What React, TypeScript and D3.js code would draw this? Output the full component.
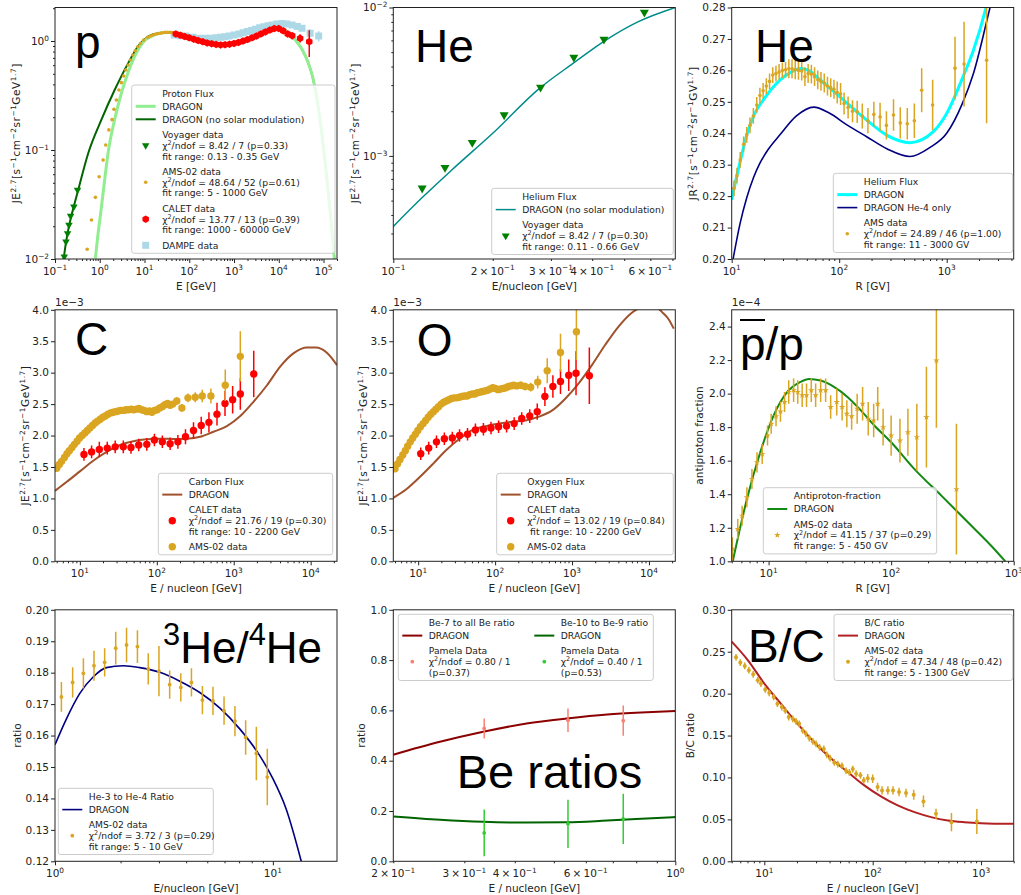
import React, { useEffect, useRef } from "react";
import * as d3 from "d3";

type Pt = [number, number];
type EPt = [number, number, number];

// ---------- proton flux ----------
const pDragonHigh: Pt[] = [[50,1.19],[70,1.15],[100,1.09],[150,1.03],[200,0.99],[300,0.955],[500,0.93],[800,0.93],[1200,0.96],[2000,1.03],[3000,1.1],[5000,1.21],[7000,1.29],[9000,1.33],[12000,1.29],[17000,1.17],[23500,1.02],[33000,0.84],[45000,0.64],[57000,0.47],[70000,0.31],[90000,0.15],[115000,0.062],[140000,0.028],[175000,0.01]];
const pDragon: Pt[] = [[0.8,0.0102],[0.9,0.016],[1.09,0.03],[1.3,0.055],[1.53,0.093],[2.15,0.19],[3.03,0.33],[4.26,0.51],[6,0.72],[8.4,0.92],[11,1.04],[14,1.1],[20,1.17],[30,1.2],[40,1.2], ...pDragonHigh];
const pDragonNoMod: Pt[] = [[0.155,0.0098],[0.176,0.0142],[0.2,0.019],[0.25,0.028],[0.33,0.043],[0.55,0.093],[1.09,0.19],[2.15,0.355],[4.26,0.62],[7.1,0.89],[11.8,1.09],[19.8,1.18],[30,1.2],[40,1.2], ...pDragonHigh];
const pVoyager: Pt[] = [[0.161,0.0105],[0.176,0.0144],[0.191,0.0172],[0.205,0.0205],[0.223,0.0248],[0.264,0.0302],[0.319,0.043]];
const pAms: Pt[] = [[0.523,0.0123],[0.653,0.0228],[0.8,0.0368],[0.97,0.0569],[1.19,0.081],[1.36,0.111],[1.6,0.153],[1.88,0.19],[2.08,0.236],[2.35,0.288],[2.68,0.355],[3.03,0.415],[3.4,0.477],[3.83,0.542],[4.3,0.602],[4.85,0.669],[5.47,0.744],[6.2,0.815],[7.1,0.886],[8.1,0.95],[9.6,1.02],[11.8,1.08],[13.5,1.11],[15.3,1.13],[17.5,1.155],[19.8,1.17],[22.5,1.18],[25.5,1.19],[29,1.2],[33,1.2],[37.5,1.2],[42.5,1.195],[48,1.19]];
const pCalet: EPt[] = [[50.1,1.16,0.02],[63.1,1.13,0.02],[79.4,1.1,0.02],[100,1.07,0.02],[126,1.04,0.02],[158,1.01,0.02],[200,0.985,0.02],[251,0.96,0.02],[316,0.945,0.02],[398,0.93,0.025],[501,0.92,0.025],[631,0.925,0.025],[794,0.935,0.03],[1000,0.95,0.03],[1259,0.97,0.03],[1585,1.0,0.035],[1995,1.03,0.035],[2512,1.07,0.04],[3162,1.11,0.04],[3981,1.16,0.045],[5012,1.21,0.05],[6310,1.26,0.05],[7943,1.3,0.06],[10000,1.3,0.06],[12589,1.24,0.07],[15849,1.16,0.08],[19953,1.12,0.08],[30000,1.06,0.09],[48000,0.985,0.27]];
const pDampe: EPt[] = [[46,1.135,0.03],[63,1.12,0.03],[84,1.11,0.03],[120,1.08,0.03],[166,1.06,0.03],[230,1.06,0.03],[302,1.06,0.03],[400,1.07,0.03],[500,1.08,0.03],[630,1.095,0.03],[772,1.11,0.035],[1000,1.135,0.035],[1290,1.16,0.04],[1600,1.19,0.04],[1980,1.22,0.045],[2450,1.25,0.045],[3020,1.28,0.05],[3750,1.32,0.05],[4640,1.35,0.055],[5800,1.38,0.06],[7100,1.4,0.06],[9000,1.43,0.07],[11800,1.45,0.07],[15000,1.43,0.08],[19800,1.4,0.08],[26000,1.36,0.09],[33000,1.31,0.09],[50000,1.18,0.1],[78000,1.11,0.12]];

// ---------- helium, Voyager ----------
const heVoyDragon: Pt[] = [[0.1,3.35e-4],[0.123,5.3e-4],[0.15,8.0e-4],[0.2,1.42e-3],[0.277,2.85e-3],[0.35,4.2e-3],[0.44,6.03e-3],[0.55,8.0e-3],[0.714,1.0e-2]];
const heVoyData: Pt[] = [[0.1223,6.06e-4],[0.1434,8.34e-4],[0.1734,1.228e-3],[0.2165,1.888e-3],[0.2791,2.9e-3],[0.352,4.61e-3],[0.4342,6.1e-3],[0.5755,9.27e-3]];

// ---------- helium, AMS ----------
const heAmsDragon: Pt[] = [[10,0.2188],[11,0.2255],[12,0.231],[13.8,0.2395],[16.5,0.2465],[19.7,0.2506],[28.1,0.2569],[36,0.2595],[43.2,0.2606],[52,0.26],[66,0.2571],[101.6,0.2516],[180,0.2442],[276,0.2394],[456,0.237],[750,0.2405],[1000,0.2463],[1420,0.258],[1773,0.2664],[2323,0.28],[2600,0.287]];
const heAmsDragonHe4: Pt[] = [[10.3,0.2],[12,0.2115],[13.8,0.2195],[16,0.226],[18.3,0.2305],[22,0.235],[28.1,0.2395],[40,0.2455],[58,0.2483],[80,0.2465],[120,0.2425],[180,0.2389],[280,0.235],[456,0.2326],[700,0.2355],[1000,0.24],[1400,0.2495],[1773,0.259],[2530,0.28],[2800,0.286]];
const heAmsData: EPt[] = [[10.5,0.2225,0.0025],[11.2,0.2265,0.0025],[12,0.2315,0.0025],[12.9,0.2365,0.0025],[13.8,0.2395,0.0025],[14.8,0.2425,0.0025],[15.9,0.2455,0.0025],[17.1,0.249,0.0025],[18.3,0.252,0.0025],[19.6,0.2535,0.0025],[21,0.255,0.0025],[22.5,0.2565,0.0025],[24.1,0.2585,0.0025],[25.8,0.259,0.0025],[27.6,0.2595,0.0025],[29.6,0.26,0.0025],[31.7,0.2602,0.0025],[34,0.2605,0.003],[36.4,0.2605,0.003],[39,0.2602,0.003],[41.8,0.26,0.003],[44.8,0.2598,0.003],[48,0.258,0.003],[51.4,0.259,0.003],[55.1,0.2588,0.003],[59,0.258,0.003],[63.2,0.257,0.003],[67.7,0.2565,0.003],[72.6,0.256,0.003],[77.8,0.255,0.003],[83.4,0.2545,0.003],[89.4,0.254,0.003],[95.8,0.253,0.0035],[103,0.2525,0.0035],[111,0.2495,0.0035],[121,0.2482,0.0035],[133,0.247,0.0035],[147,0.2468,0.0035],[164,0.2455,0.004],[185,0.244,0.004],[210,0.246,0.004],[240,0.2452,0.0045],[275,0.2425,0.0045],[320,0.2458,0.005],[370,0.2433,0.005],[430,0.243,0.005],[500,0.244,0.0055],[585,0.2537,0.007],[740,0.249,0.008],[1195,0.2607,0.01],[1450,0.262,0.0135],[2350,0.2632,0.02]];

// ---------- carbon (units of 1e-3) ----------
const cDragon: Pt[] = [[4.75,1.12],[6.7,1.26],[10,1.43],[14.9,1.6],[22.3,1.74],[33.3,1.85],[49.6,1.91],[74,1.94],[110,1.95],[164,1.945],[246,1.95],[367,1.98],[547,2.06],[815,2.15],[1218,2.31],[1815,2.54],[2708,2.8],[4040,3.1],[6025,3.31],[8990,3.4],[11600,3.4],[16500,3.31],[22000,3.12]];
const cCalet: EPt[] = [[11.3,1.7,0.1],[14.2,1.74,0.1],[17.9,1.78,0.12],[22.7,1.8,0.1],[28.8,1.82,0.1],[36.7,1.82,0.1],[46.2,1.81,0.1],[58.2,1.85,0.1],[74.1,1.86,0.1],[93.1,1.93,0.1],[118,1.9,0.1],[149,1.87,0.1],[188,1.9,0.11],[236,1.98,0.12],[300,2.08,0.13],[378,2.16,0.14],[476,2.21,0.16],[606,2.34,0.18],[770,2.51,0.2],[968,2.57,0.22],[1218,2.66,0.25],[1820,2.98,0.37]];
const cAms: EPt[] = [[5,1.48,0.04],[5.4,1.54,0.04],[5.8,1.59,0.04],[6.3,1.65,0.04],[6.8,1.71,0.04],[7.3,1.76,0.04],[7.9,1.81,0.04],[8.5,1.86,0.04],[9.2,1.91,0.04],[9.9,1.96,0.04],[10.7,2.0,0.04],[11.6,2.04,0.04],[12.5,2.08,0.04],[13.5,2.12,0.04],[14.6,2.16,0.04],[15.8,2.2,0.04],[17,2.23,0.04],[18.4,2.26,0.04],[19.9,2.29,0.04],[21.5,2.31,0.04],[23.2,2.34,0.04],[25.1,2.36,0.04],[27.1,2.37,0.04],[29.3,2.38,0.04],[31.6,2.39,0.04],[34.2,2.4,0.04],[36.9,2.4,0.04],[39.9,2.41,0.04],[43.1,2.41,0.04],[46.6,2.42,0.04],[50.3,2.41,0.04],[54.4,2.42,0.04],[58.7,2.43,0.04],[63.5,2.41,0.04],[68.6,2.4,0.04],[74.1,2.38,0.04],[80,2.39,0.04],[86.5,2.37,0.04],[93.4,2.4,0.04],[101,2.41,0.04],[109,2.44,0.05],[118,2.46,0.05],[127,2.49,0.05],[138,2.51,0.05],[149,2.48,0.05],[161,2.5,0.05],[182,2.55,0.06],[212,2.44,0.06],[254,2.6,0.07],[316,2.61,0.08],[390,2.63,0.1],[505,2.63,0.12],[776,2.8,0.25],[1218,3.26,0.4]];

// ---------- oxygen (units of 1e-3) ----------
const oDragon: Pt[] = [[4.75,1.01],[7.08,1.15],[10.5,1.34],[15.6,1.55],[23.2,1.77],[34.5,1.95],[51.3,2.09],[76.3,2.15],[113,2.19],[168,2.22],[250,2.24],[372,2.3],[553,2.4],[822,2.59],[1220,2.83],[1813,3.12],[2692,3.44],[4000,3.73],[5940,3.95],[7240,4.02],[9000,4.07],[10700,4.07],[13000,4.03],[15200,3.95],[18000,3.85],[21000,3.7]];
const oCalet: EPt[] = [[10.8,1.71,0.1],[13.7,1.8,0.1],[17.3,1.9,0.1],[21.9,1.95,0.1],[27.8,1.96,0.1],[34.5,2.0,0.1],[43.8,2.02,0.1],[55.5,2.09,0.1],[70.5,2.1,0.1],[88.5,2.12,0.1],[111,2.14,0.1],[141,2.15,0.1],[177,2.19,0.1],[222,2.27,0.1],[282,2.31,0.11],[353,2.38,0.13],[444,2.62,0.15],[564,2.78,0.18],[708,2.86,0.2],[906,2.96,0.25],[1127,2.99,0.35],[1679,2.95,0.45]];
const oAms: EPt[] = [[5,1.47,0.04],[5.4,1.55,0.04],[5.8,1.62,0.04],[6.3,1.69,0.04],[6.8,1.76,0.04],[7.3,1.83,0.04],[7.9,1.9,0.04],[8.5,1.96,0.04],[9.2,2.02,0.04],[9.9,2.08,0.04],[10.7,2.14,0.04],[11.6,2.19,0.04],[12.5,2.24,0.04],[13.5,2.29,0.04],[14.6,2.34,0.04],[15.8,2.38,0.04],[17,2.42,0.04],[18.4,2.46,0.04],[19.9,2.5,0.04],[21.5,2.53,0.04],[23.2,2.55,0.04],[25.1,2.57,0.04],[27.1,2.59,0.04],[29.3,2.6,0.04],[31.6,2.6,0.04],[34.2,2.61,0.04],[36.9,2.62,0.04],[39.9,2.63,0.04],[43.1,2.63,0.04],[46.6,2.65,0.04],[50.3,2.66,0.04],[54.4,2.66,0.04],[58.7,2.68,0.04],[63.5,2.69,0.04],[68.6,2.7,0.04],[74.1,2.71,0.04],[80,2.72,0.04],[86.5,2.74,0.05],[93.4,2.76,0.05],[101,2.75,0.05],[109,2.73,0.05],[118,2.74,0.05],[127,2.75,0.05],[138,2.76,0.05],[149,2.78,0.05],[161,2.79,0.05],[174,2.8,0.05],[190,2.79,0.05],[215,2.8,0.06],[245,2.78,0.06],[290,2.77,0.07],[358,2.85,0.1],[476,3.03,0.2],[708,3.32,0.3],[1140,3.65,0.45]];

// ---------- antiproton fraction (units of 1e-4) ----------
const pbarDragon: Pt[] = [[5.1,1.0],[6.65,1.37],[8.55,1.65],[11,1.87],[14.2,2.01],[18.2,2.07],[21.3,2.088],[26.6,2.078],[34.2,2.04],[44,1.98],[56.6,1.9],[72.9,1.81],[100,1.71],[155,1.55],[258,1.39],[427,1.23],[661,1.09],[853,1.0]];
const pbarAms: EPt[] = [[5.06,1.074,0.07],[5.6,1.193,0.06],[6.08,1.272,0.06],[6.65,1.382,0.06],[7.31,1.491,0.06],[8.04,1.59,0.06],[8.87,1.64,0.06],[9.8,1.75,0.06],[10.5,1.82,0.06],[11.5,1.865,0.06],[12.5,1.893,0.06],[13.5,1.95,0.06],[14.6,2.01,0.07],[16,2.02,0.07],[17.3,2.01,0.07],[18.8,1.99,0.07],[20.4,1.99,0.07],[22.3,2.02,0.07],[24.2,1.99,0.07],[26.6,2.02,0.07],[29.2,2.02,0.07],[32.1,1.92,0.07],[36,1.95,0.08],[39.8,1.92,0.08],[43.5,1.88,0.08],[47.6,1.865,0.08],[52.8,1.91,0.09],[58.5,1.94,0.1],[65,1.85,0.1],[72,1.84,0.1],[77.7,1.94,0.1],[86,1.8,0.11],[100,1.75,0.12],[118,1.72,0.13],[137,1.77,0.14],[162,1.74,0.2],[194,1.86,0.3],[234,2.197,0.4],[341,1.43,0.39]];

// ---------- 3He / 4He ----------
const he34Dragon: Pt[] = [[1,0.1571],[1.13,0.1654],[1.3,0.1734],[1.5,0.1787],[1.72,0.1816],[2.06,0.1822],[2.45,0.1816],[3.03,0.1801],[3.74,0.1773],[4.62,0.1737],[5.7,0.1688],[7.03,0.1622],[8.69,0.1537],[10,0.1463],[11.5,0.1367],[13.5,0.12]];
const he34Ams: EPt[] = [[1.07,0.1723,0.0047],[1.205,0.1769,0.0048],[1.35,0.1798,0.0048],[1.51,0.1822,0.0048],[1.69,0.1833,0.0045],[1.9,0.1878,0.0052],[2.13,0.1888,0.0055],[2.39,0.1883,0.0052],[2.68,0.1812,0.005],[3,0.1805,0.008],[3.36,0.1762,0.0045],[3.78,0.1753,0.0045],[4.23,0.1769,0.0045],[4.75,0.1713,0.0045],[5.31,0.171,0.0045],[5.97,0.1679,0.0045],[6.7,0.1646,0.0048],[7.5,0.1594,0.0055],[8.4,0.1543,0.0085],[9.43,0.1468,0.009]];

// ---------- Be ratios ----------
const be7Dragon: Pt[] = [[0.2,0.424],[0.261,0.475],[0.334,0.515],[0.428,0.548],[0.538,0.568],[0.678,0.584],[0.85,0.593],[1.0,0.598]];
const be10Dragon: Pt[] = [[0.2,0.178],[0.261,0.165],[0.334,0.157],[0.428,0.154],[0.538,0.155],[0.678,0.162],[0.85,0.17],[1.0,0.176]];
const be7Pamela: EPt[] = [[0.336,0.528,0.04],[0.542,0.561,0.047],[0.743,0.559,0.06]];
const be10Pamela: EPt[] = [[0.336,0.113,0.093],[0.542,0.149,0.096],[0.743,0.169,0.1]];

// ---------- B/C ----------
const bcDragon: Pt[] = [[5,0.262],[7.03,0.24],[10,0.212],[14.2,0.188],[20.3,0.164],[28.9,0.142],[41.3,0.1225],[58.8,0.1065],[83.7,0.0906],[119,0.0774],[170,0.0666],[243,0.0586],[346,0.0527],[493,0.0487],[703,0.0467],[1000,0.0455],[2000,0.0447]];
const bcAms: EPt[] = [[5.48,0.2434,0.004],[6,0.237,0.004],[6.6,0.233,0.004],[7.2,0.228,0.004],[7.9,0.223,0.004],[8.7,0.216,0.004],[9.3,0.212,0.004],[10.2,0.205,0.004],[11.1,0.201,0.004],[12.2,0.196,0.004],[13.2,0.188,0.004],[14.5,0.184,0.004],[15.6,0.18,0.004],[16.8,0.172,0.004],[18.3,0.17,0.004],[19.6,0.167,0.004],[21,0.164,0.004],[22.6,0.156,0.004],[24.2,0.152,0.004],[26,0.147,0.004],[28,0.143,0.004],[30,0.14,0.004],[32.3,0.136,0.004],[35.4,0.134,0.004],[37.7,0.127,0.004],[40.4,0.123,0.004],[44.2,0.118,0.004],[47.6,0.116,0.004],[52,0.114,0.004],[56.8,0.108,0.004],[60.9,0.106,0.004],[65.5,0.11,0.004],[70.3,0.1045,0.004],[77,0.1025,0.004],[82.7,0.0965,0.004],[90,0.099,0.005],[100,0.0985,0.005],[111,0.0886,0.005],[122,0.0846,0.005],[138,0.0846,0.005],[154,0.0846,0.005],[175,0.0826,0.005],[203,0.0814,0.005],[239,0.0794,0.006],[294,0.0714,0.007],[384,0.0566,0.006],[533,0.0467,0.011],[914,0.0475,0.015]];

// ---------- tick labels ----------
const heAmsYTicks = [0.2, 0.21, 0.22, 0.23, 0.24, 0.25, 0.26, 0.27, 0.28];
const fluxYTicks = [0, 0.5, 1, 1.5, 2, 2.5, 3, 3.5, 4];
const pbarYTicks = [1.0, 1.2, 1.4, 1.6, 1.8, 2.0, 2.2, 2.4];
const he34YTicks = [0.12, 0.13, 0.14, 0.15, 0.16, 0.17, 0.18, 0.19, 0.2];
const beYTicks = [0, 0.2, 0.4, 0.6, 0.8, 1.0];
const bcYTicks = [0, 0.05, 0.1, 0.15, 0.2, 0.25, 0.3];
const minorXLabels = [0.2, 0.3, 0.4, 0.6];

const FLUX_E = "JE^{2.7}[s^{−1}cm^{−2}sr^{−1}GeV^{1.7}]";
const FLUX_R = "JR^{2.7}[s^{−1}cm^{−2}sr^{−1}GV^{1.7}]";
const chi = (s: string) => `χ^{2}/ndof = ${s}`;

const FONT = "DejaVu Sans, Verdana, sans-serif";
const BIG = "Liberation Sans, Arial, sans-serif";
const GOLD = "#daa520";

const COLS = [55, 393.3, 731.7];
const ROWS = [7.5, 309.8, 609.8];
const PW = 282;
const PH = 251.5;

type Marker = "triDown" | "hex" | "square" | "circle" | "star";
type Handle = { kind: "line"; color: string; width: number } | { kind: "marker"; marker: Marker; color: string; size: number };
type Entry = { lines: string[]; handle?: Handle };

const mk = (marker: Marker, color: string, size: number): Handle => ({ kind: "marker", marker, color, size });
const ln = (color: string, width: number): Handle => ({ kind: "line", color, width });

const panels: any[] = [
  {
    col: 0, row: 0, xDomain: [0.1, 2e5], yLog: true, yDomain: [0.01, 2.03],
    xLabel: "E [GeV]", yLabel: FLUX_E, yLabelDx: -39,
    series: [
      { kind: "line", data: pDragonNoMod, color: "#006400", width: 2 },
      { kind: "line", data: pDragon, color: "#90ee90", width: 3 },
      { kind: "points", data: pDampe, color: "#add8e6", marker: "square", size: 7 },
      { kind: "points", data: pAms, color: GOLD, marker: "circle", size: 3.6 },
      { kind: "points", data: pVoyager, color: "#008000", marker: "triDown", size: 7.5 },
      { kind: "points", data: pCalet, color: "#ff0000", marker: "hex", size: 7.5 },
    ],
    legend: { x: 131.7, y: 85, w: 203.3, columns: [[
      { lines: ["Proton Flux"] },
      { lines: ["DRAGON"], handle: ln("#90ee90", 3) },
      { lines: ["DRAGON (no solar modulation)"], handle: ln("#006400", 2) },
      { lines: ["Voyager data", chi("8.42 / 7 (p=0.33)"), "fit range: 0.13 - 0.35 GeV"], handle: mk("triDown", "#008000", 7.5) },
      { lines: ["AMS-02 data", chi("48.64 / 52 (p=0.61)"), "fit range: 5 - 1000 GeV"], handle: mk("circle", GOLD, 3.6) },
      { lines: ["CALET data", chi("13.77 / 13 (p=0.39)"), "fit range: 1000 - 60000 GeV"], handle: mk("hex", "#ff0000", 7.5) },
      { lines: ["DAMPE data"], handle: mk("square", "#add8e6", 7) },
    ]] },
    big: { text: "p", x: 75, y: 58, size: 46 },
  },
  {
    col: 1, row: 0, xDomain: [0.1, 0.714], xMinorLabels: minorXLabels, yLog: true, yDomain: [2.02e-4, 1e-2],
    xLabel: "E/nucleon [GeV]", yLabel: FLUX_E, yLabelDx: -38.3,
    series: [
      { kind: "line", data: heVoyDragon, color: "#008b8b", width: 1.5 },
      { kind: "points", data: heVoyData, color: "#008000", marker: "triDown", size: 9 },
    ],
    legend: { x: 491.7, y: 188.3, w: 181.6, columns: [[
      { lines: ["Helium Flux"] },
      { lines: ["DRAGON (no solar modulation)"], handle: ln("#008b8b", 1.5) },
      { lines: ["Voyager data", chi("8.42 / 7 (p=0.30)"), "fit range: 0.11 - 0.66 GeV"], handle: mk("triDown", "#008000", 8) },
    ]] },
    big: { text: "He", x: 415, y: 62, size: 46 },
  },
  {
    col: 2, row: 0, xDomain: [10, 4200], yDomain: [0.2, 0.28], yTicks: heAmsYTicks, yDec: 2,
    xLabel: "R [GV]", yLabel: FLUX_R, yLabelDx: -38.4,
    series: [
      { kind: "line", data: heAmsDragon, color: "#00ffff", width: 3 },
      { kind: "line", data: heAmsDragonHe4, color: "#000080", width: 1.6 },
      { kind: "points", data: heAmsData, color: GOLD, marker: "circle", size: 3.6 },
    ],
    legend: { x: 833.3, y: 173.3, w: 179.4, columns: [[
      { lines: ["Helium Flux"] },
      { lines: ["DRAGON"], handle: ln("#00ffff", 3) },
      { lines: ["DRAGON He-4 only"], handle: ln("#000080", 1.6) },
      { lines: ["AMS data", chi("24.89 / 46 (p=1.00)"), "fit range: 11 - 3000 GV"], handle: mk("circle", GOLD, 3.6) },
    ]] },
    big: { text: "He", x: 755, y: 62, size: 46 },
  },
  {
    col: 0, row: 1, xDomain: [4.75, 22000], yDomain: [0, 4], yTicks: fluxYTicks, yDec: 1, offsetText: "1e−3",
    xLabel: "E / nucleon [GeV]", yLabel: FLUX_E, yLabelDx: -30,
    series: [
      { kind: "line", data: cDragon, color: "#a0522d", width: 2 },
      { kind: "points", data: cCalet, color: "#ff0000", marker: "circle", size: 7.4 },
      { kind: "points", data: cAms, color: GOLD, marker: "circle", size: 7.4 },
    ],
    legend: { x: 158.3, y: 473.3, w: 174.4, columns: [[
      { lines: ["Carbon Flux"] },
      { lines: ["DRAGON"], handle: ln("#a0522d", 2) },
      { lines: ["CALET data", chi("21.76 / 19 (p=0.30)"), "fit range: 10 - 2200 GeV"], handle: mk("circle", "#ff0000", 7.4) },
      { lines: ["AMS-02 data"], handle: mk("circle", GOLD, 7.4) },
    ]] },
    big: { text: "C", x: 75, y: 354.5, size: 46 },
  },
  {
    col: 1, row: 1, xDomain: [4.75, 22000], yDomain: [0, 4], yTicks: fluxYTicks, yDec: 1, offsetText: "1e−3",
    xLabel: "E / nucleon [GeV]", yLabel: FLUX_E, yLabelDx: -30,
    series: [
      { kind: "line", data: oDragon, color: "#a0522d", width: 2 },
      { kind: "points", data: oCalet, color: "#ff0000", marker: "circle", size: 7.4 },
      { kind: "points", data: oAms, color: GOLD, marker: "circle", size: 7.4 },
    ],
    legend: { x: 496.7, y: 473.3, w: 176.6, columns: [[
      { lines: ["Oxygen Flux"] },
      { lines: ["DRAGON"], handle: ln("#a0522d", 2) },
      { lines: ["CALET data", chi("13.02 / 19 (p=0.84)"), "\u00a0fit range: 10 - 2200 GeV"], handle: mk("circle", "#ff0000", 7.4) },
      { lines: ["AMS-02 data"], handle: mk("circle", GOLD, 7.4) },
    ]] },
    big: { text: "O", x: 416.7, y: 356, size: 46 },
  },
  {
    col: 2, row: 1, xDomain: [5, 1000], yDomain: [1, 2.5], yTicks: pbarYTicks, yDec: 1, offsetText: "1e−4",
    xLabel: "R [GV]", yLabel: "antiproton fraction", yLabelDx: -33,
    series: [
      { kind: "line", data: pbarDragon, color: "#138a13", width: 2 },
      { kind: "points", data: pbarAms, color: GOLD, marker: "star", size: 6.5 },
    ],
    legend: { x: 763.3, y: 487.7, w: 173.4, columns: [[
      { lines: ["Antiproton-fraction"] },
      { lines: ["DRAGON"], handle: ln("#138a13", 2) },
      { lines: ["AMS-02 data", chi("41.15 / 37 (p=0.29)"), "fit range: 5 - 450 GV"], handle: mk("star", GOLD, 6.5) },
    ]] },
    big: { text: "p/p", x: 740, y: 360, size: 46, bar: [740, 765, 320] },
  },
  {
    col: 0, row: 2, xDomain: [1, 19.7], yDomain: [0.12, 0.2], yTicks: he34YTicks, yDec: 2,
    xLabel: "E/nucleon [GeV]", yLabel: "ratio", yLabelDx: -37.7,
    series: [
      { kind: "line", data: he34Dragon, color: "#000080", width: 1.6 },
      { kind: "points", data: he34Ams, color: GOLD, marker: "circle", size: 3.8 },
    ],
    legend: { x: 58.3, y: 788.3, w: 155, columns: [[
      { lines: ["He-3 to He-4 Ratio"] },
      { lines: ["DRAGON"], handle: ln("#000080", 1.6) },
      { lines: ["AMS-02 data", chi("3.72 / 3 (p=0.29)"), "fit range: 5 - 10 GeV"], handle: mk("circle", GOLD, 3.8) },
    ]] },
    big: { text: "^{3}He/^{4}He", x: 163, y: 663, size: 44 },
  },
  {
    col: 1, row: 2, xDomain: [0.2, 1], xMinorLabels: minorXLabels, yDomain: [0, 1], yTicks: beYTicks, yDec: 1,
    xLabel: "E / nucleon [GeV]", yLabel: "ratio", yLabelDx: -32.6,
    series: [
      { kind: "line", data: be7Dragon, color: "#8b0000", width: 2 },
      { kind: "line", data: be10Dragon, color: "#006400", width: 2 },
      { kind: "points", data: be7Pamela, color: "#fa8072", marker: "circle", size: 3.8 },
      { kind: "points", data: be10Pamela, color: "#32cd32", marker: "circle", size: 3.8 },
    ],
    legend: { x: 398.3, y: 614.3, w: 255, colStep: 132, columns: [
      [
        { lines: ["Be-7 to all Be ratio"] },
        { lines: ["DRAGON"], handle: ln("#8b0000", 2) },
        { lines: ["Pamela Data", chi("0.80 / 1"), "(p=0.37)"], handle: mk("circle", "#fa8072", 3.8) },
      ],
      [
        { lines: ["Be-10 to Be-9 ratio"] },
        { lines: ["DRAGON"], handle: ln("#006400", 2) },
        { lines: ["Pamela Data", chi("0.40 / 1"), "(p=0.53)"], handle: mk("circle", "#32cd32", 3.8) },
      ],
    ] },
    big: { text: "Be ratios", x: 456.7, y: 788.3, size: 47 },
  },
  {
    col: 2, row: 2, xDomain: [5, 2000], yDomain: [0, 0.3], yTicks: bcYTicks, yDec: 2,
    xLabel: "E / nucleon [GeV]", yLabel: "B/C ratio", yLabelDx: -41.4,
    series: [
      { kind: "line", data: bcDragon, color: "#b22222", width: 2 },
      { kind: "points", data: bcAms, color: GOLD, marker: "circle", size: 4 },
    ],
    legend: { x: 834, y: 614.3, w: 178.7, columns: [[
      { lines: ["B/C ratio"] },
      { lines: ["DRAGON"], handle: ln("#b22222", 2) },
      { lines: ["AMS-02 data", chi("47.34 / 48 (p=0.42)"), "fit range: 5 - 1300 GeV"], handle: mk("circle", GOLD, 4) },
    ]] },
    big: { text: "B/C", x: 748, y: 662, size: 46 },
  },
];

// text with ^{...} superscripts
function rich(sel: any, str: string, fs: number) {
  const parts = str.split(/(\^\{[^}]*\})/).filter((s) => s.length);
  const shift = fs * 0.4;
  let up = false;
  parts.forEach((part) => {
    if (part.startsWith("^{")) {
      sel.append("tspan").attr("font-size", fs * 0.7).attr("dy", up ? 0 : -shift).text(part.slice(2, -1));
      up = true;
    } else {
      const t = sel.append("tspan").text(part);
      if (up) t.attr("dy", shift);
      up = false;
    }
  });
}

function drawMarker(g: any, m: Marker, cx: number, cy: number, s: number, color: string) {
  if (m === "circle") {
    g.append("circle").attr("cx", cx).attr("cy", cy).attr("r", s / 2).attr("fill", color);
    return;
  }
  let d = "";
  let rot = 0;
  if (m === "triDown") {
    d = d3.symbol(d3.symbolTriangle, (s * s * Math.sqrt(3)) / 4)() || "";
    rot = 180;
  } else if (m === "square") d = d3.symbol(d3.symbolSquare, s * s)() || "";
  else if (m === "star") d = d3.symbol(d3.symbolStar, s * s * 0.3)() || "";
  else {
    const r = s / 2;
    d = d3.range(6).map((i) => {
      const a = (Math.PI / 3) * i - Math.PI / 2;
      return `${i ? "L" : "M"}${r * Math.cos(a)},${r * Math.sin(a)}`;
    }).join("") + "Z";
  }
  g.append("path").attr("d", d).attr("fill", color)
    .attr("transform", `translate(${cx},${cy})${rot ? ` rotate(${rot})` : ""}`);
}

function logTicks([a, b]: number[]) {
  const major: number[] = [];
  const minor: number[] = [];
  for (let k = Math.floor(Math.log10(a)); k <= Math.ceil(Math.log10(b)); k++) {
    const base = Math.pow(10, k);
    if (base >= a * 0.9999 && base <= b * 1.0001) major.push(base);
    for (let m = 2; m < 10; m++) {
      const v = m * base;
      if (v >= a * 0.9999 && v <= b * 1.0001) minor.push(v);
    }
  }
  return { major, minor };
}

const expStr = (v: number) => {
  const k = Math.round(Math.log10(v));
  return `10^{${k < 0 ? "−" + -k : k}}`;
};

function drawPanel(root: any, p: any, idx: number) {
  const ox = COLS[p.col];
  const oy = ROWS[p.row];
  const g = root.append("g").attr("transform", `translate(${ox},${oy})`);
  const x = d3.scaleLog().domain(p.xDomain).range([0, PW]);
  const y: any = p.yLog
    ? d3.scaleLog().domain(p.yDomain).range([PH, 0])
    : d3.scaleLinear().domain(p.yDomain).range([PH, 0]);

  g.append("clipPath").attr("id", `clip-${idx}`).append("rect").attr("width", PW).attr("height", PH);
  const plot = g.append("g").attr("clip-path", `url(#clip-${idx})`);

  p.series.forEach((s: any) => {
    if (s.kind === "line") {
      const line = d3.line<Pt>().x((d) => x(d[0])).y((d) => y(d[1])).curve(d3.curveMonotoneX);
      plot.append("path").attr("d", line(s.data)).attr("fill", "none")
        .attr("stroke", s.color).attr("stroke-width", s.width).attr("stroke-linejoin", "round");
    } else {
      const gg = plot.append("g");
      s.data.forEach((d: number[]) => {
        if (d.length > 2) {
          gg.append("line").attr("x1", x(d[0])).attr("x2", x(d[0]))
            .attr("y1", y(d[1] - d[2])).attr("y2", y(d[1] + d[2]))
            .attr("stroke", s.color).attr("stroke-width", 1.5);
        }
      });
      s.data.forEach((d: number[]) => drawMarker(gg, s.marker, x(d[0]), y(d[1]), s.size, s.color));
    }
  });

  g.append("rect").attr("width", PW).attr("height", PH).attr("fill", "none")
    .attr("stroke", "#222").attr("stroke-width", 1);

  const tickText = (sel: any) => sel.attr("font-family", FONT).attr("font-size", 10.5).attr("fill", "#222");

  // x axis
  const xt = logTicks(p.xDomain);
  const noLabel = () => "";
  g.append("g").attr("transform", `translate(0,${PH})`).attr("color", "#222")
    .call(d3.axisBottom(x).tickValues(xt.major).tickSize(4).tickSizeOuter(0).tickFormat(noLabel))
    .call((a: any) => a.select(".domain").remove());
  g.append("g").attr("transform", `translate(0,${PH})`).attr("color", "#222")
    .call(d3.axisBottom(x).tickValues(xt.minor).tickSize(2).tickSizeOuter(0).tickFormat(noLabel))
    .call((a: any) => a.select(".domain").remove());
  xt.major.forEach((v) => {
    const t = g.append("text").attr("x", x(v)).attr("y", PH + 15.5).attr("text-anchor", "middle").call(tickText);
    rich(t, expStr(v), 10.5);
  });
  (p.xMinorLabels || []).forEach((v: number) => {
    const k = Math.floor(Math.log10(v) + 1e-9);
    const m = Math.round(v / Math.pow(10, k));
    const t = g.append("text").attr("x", x(v)).attr("y", PH + 15.5).attr("text-anchor", "middle").call(tickText);
    rich(t, `${m}\u2009×\u200910^{${k < 0 ? "−" + -k : k}}`, 10.5);
  });

  // y axis
  if (p.yLog) {
    const yt = logTicks(p.yDomain);
    g.append("g").attr("color", "#222")
      .call(d3.axisLeft(y).tickValues(yt.major).tickSize(4).tickSizeOuter(0).tickFormat(noLabel))
      .call((a: any) => a.select(".domain").remove());
    g.append("g").attr("color", "#222")
      .call(d3.axisLeft(y).tickValues(yt.minor).tickSize(2).tickSizeOuter(0).tickFormat(noLabel))
      .call((a: any) => a.select(".domain").remove());
    yt.major.forEach((v) => {
      const t = g.append("text").attr("x", -6).attr("y", y(v) + 3.8).attr("text-anchor", "end").call(tickText);
      rich(t, expStr(v), 10.5);
    });
  } else {
    g.append("g").attr("color", "#222")
      .call(d3.axisLeft(y).tickValues(p.yTicks).tickSize(4).tickSizeOuter(0).tickFormat(noLabel))
      .call((a: any) => a.select(".domain").remove());
    p.yTicks.forEach((v: number) => {
      g.append("text").attr("x", -6).attr("y", y(v) + 3.8).attr("text-anchor", "end")
        .call(tickText).text(v.toFixed(p.yDec));
    });
  }
  if (p.offsetText) {
    g.append("text").attr("x", 0).attr("y", -3.5).call(tickText).text(p.offsetText);
  }

  // axis labels
  g.append("text").attr("x", PW / 2).attr("y", PH + 30.5).attr("text-anchor", "middle")
    .call(tickText).text(p.xLabel);
  const yl = g.append("text").attr("transform", `translate(${p.yLabelDx + 3.8},${PH / 2}) rotate(-90)`)
    .attr("text-anchor", "middle").call(tickText)
    .attr("letter-spacing", p.yLabel.includes("^{") ? 0.55 : 0);
  rich(yl, p.yLabel, 10.5);

  // big label
  const bt = root.append("text").attr("x", p.big.x).attr("y", p.big.y)
    .attr("font-family", BIG).attr("font-size", p.big.size).attr("fill", "#000");
  rich(bt, p.big.text, p.big.size);
  if (p.big.bar) {
    const [x1, x2, yb] = p.big.bar;
    root.append("line").attr("x1", x1).attr("x2", x2).attr("y1", yb).attr("y2", yb)
      .attr("stroke", "#000").attr("stroke-width", 2);
  }

  drawLegend(root, p.legend);
}

function drawLegend(root: any, L: any) {
  const LINE = 10.8;
  const FS = 9.2;
  const cols = L.columns.map((entries: Entry[]) => {
    let yy = L.y + 8.3;
    let prev: boolean | null = null;
    const out: { e: Entry; y: number }[] = [];
    entries.forEach((e) => {
      const multi = e.lines.length > 1;
      if (prev !== null) yy += multi || prev ? 15.3 : 13;
      out.push({ e, y: yy });
      yy += (e.lines.length - 1) * LINE;
      prev = multi;
    });
    return { out, last: yy };
  });
  const bottom = Math.max(...cols.map((c: any) => c.last)) + 8;
  const g = root.append("g");
  g.append("rect").attr("x", L.x).attr("y", L.y).attr("width", L.w).attr("height", bottom - L.y)
    .attr("rx", 2.5).attr("fill", "#fff").attr("fill-opacity", 0.8)
    .attr("stroke", "#cccccc").attr("stroke-width", 1);
  cols.forEach((c: any, ci: number) => {
    const lx = L.x + ci * (L.colStep || 0);
    c.out.forEach(({ e, y }: { e: Entry; y: number }) => {
      const cy = y + ((e.lines.length - 1) * LINE) / 2;
      const h = e.handle;
      if (h && h.kind === "line") {
        g.append("line").attr("x1", lx + 4).attr("x2", lx + 24).attr("y1", cy).attr("y2", cy)
          .attr("stroke", h.color).attr("stroke-width", h.width);
      } else if (h) {
        drawMarker(g, h.marker, lx + 14, cy, h.size, h.color);
      }
      e.lines.forEach((s, i) => {
        const t = g.append("text").attr("x", lx + 30.5).attr("y", y + i * LINE + 3.3)
          .attr("font-family", FONT).attr("font-size", FS).attr("fill", "#222");
        rich(t, s, FS);
      });
    });
  });
}

export default function App() {
  const ref = useRef<SVGSVGElement>(null);
  useEffect(() => {
    document.body.style.margin = "0";
    const svg = d3.select(ref.current);
    svg.selectAll("*").remove();
    svg.append("rect").attr("width", 1021).attr("height", 895).attr("fill", "#fff");
    panels.forEach((p, i) => drawPanel(svg, p, i));
  }, []);
  return (
    <svg ref={ref} width={1021} height={895}
      style={{ position: "absolute", left: 0, top: 0, display: "block" }} />
  );
}
